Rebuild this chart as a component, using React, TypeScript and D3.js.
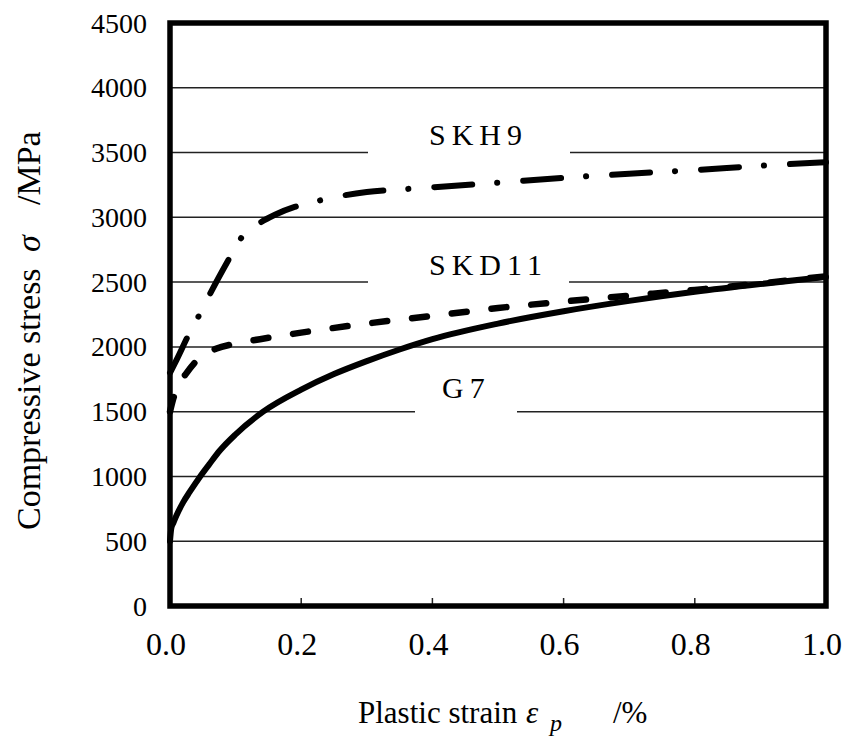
import React from "react";
import * as d3 from "d3";

// Compressive flow curves of three tool steels (plastic strain in %, stress in MPa)
const g7Strain = [0, 0.002, 0.005, 0.01, 0.02, 0.03, 0.046, 0.06, 0.076, 0.1, 0.142, 0.2, 0.25, 0.3, 0.35, 0.4, 0.5, 0.6, 0.7, 0.8, 0.9, 1.0];
const g7Stress = [500, 600, 640, 700, 800, 880, 1000, 1095, 1200, 1325, 1500, 1670, 1790, 1890, 1980, 2060, 2180, 2275, 2355, 2425, 2485, 2540];

const skd11Strain = [0, 0.005, 0.012, 0.024, 0.044, 0.07, 0.1, 0.15, 0.2, 0.3, 0.4, 0.5, 0.6, 0.7, 0.8, 0.9, 1.0];
const skd11Stress = [1500, 1600, 1700, 1790, 1910, 1985, 2025, 2070, 2110, 2180, 2240, 2300, 2350, 2395, 2440, 2490, 2545];

const skh9Strain = [0, 0.01, 0.029, 0.044, 0.06, 0.09, 0.107, 0.132, 0.16, 0.19, 0.22, 0.25, 0.3, 0.35, 0.4, 0.5, 0.6, 0.7, 0.8, 0.9, 1.0];
const skh9Stress = [1800, 1900, 2100, 2240, 2400, 2680, 2830, 2940, 3020, 3080, 3120, 3155, 3195, 3215, 3232, 3268, 3305, 3337, 3365, 3398, 3425];

const yTicks = [0, 500, 1000, 1500, 2000, 2500, 3000, 3500, 4000, 4500];
const xTicks = [0, 0.2, 0.4, 0.6, 0.8, 1.0];

const FONT = "'Liberation Serif', 'Times New Roman', serif";

const W = 848;
const H = 739;
const L = 170;
const R = 826;
const T = 23;
const B = 606;

const x = d3.scaleLinear().domain([0, 1]).range([L, R]);
const y = d3.scaleLinear().domain([0, 4500]).range([B, T]);

const zip = (xs: number[], ys: number[]) => xs.map((v, i) => [v, ys[i]] as [number, number]);

const line = d3
  .line<[number, number]>()
  .x((d) => x(d[0]))
  .y((d) => y(d[1]))
  .curve(d3.curveMonotoneX);

// White boxes behind the series names (they interrupt the grid lines)
const labelBoxes = [
  { x0: 368, x1: 570, yc: y(3500) },
  { x0: 368, x1: 569, yc: y(2500) },
  { x0: 415, x1: 517, yc: y(1500) },
];

export default function App() {
  return (
    <svg
      width={W}
      height={H}
      style={{ position: "absolute", left: 0, top: 0, background: "#fff" }}
      fontFamily={FONT}
    >
      <rect x={0} y={0} width={W} height={H} fill="#fff" />

      {/* horizontal grid */}
      {yTicks
        .filter((t) => t > 0 && t < 4500)
        .map((t) => (
          <line key={t} x1={L} x2={R} y1={y(t)} y2={y(t)} stroke="#222" strokeWidth={1.5} />
        ))}

      {labelBoxes.map((b, i) => (
        <rect key={i} x={b.x0} y={b.yc - 14} width={b.x1 - b.x0} height={28} fill="#fff" />
      ))}

      {/* x ticks */}
      {xTicks
        .filter((t) => t > 0 && t < 1)
        .map((t) => (
          <line key={t} x1={x(t)} x2={x(t)} y1={B} y2={B - 8} stroke="#222" strokeWidth={1.5} />
        ))}

      {/* curves */}
      <path
        d={line(zip(g7Strain, g7Stress)) || ""}
        fill="none"
        stroke="#000"
        strokeWidth={6}
        strokeLinejoin="round"
        strokeLinecap="round"
      />
      <path
        d={line(zip(skd11Strain, skd11Stress)) || ""}
        fill="none"
        stroke="#000"
        strokeWidth={6.5}
        strokeDasharray="15 25"
        strokeLinecap="round"
      />
      <path
        d={line(zip(skh9Strain, skh9Stress)) || ""}
        fill="none"
        stroke="#000"
        strokeWidth={6}
        strokeDasharray="38 25 0.1 26"
        strokeLinecap="round"
      />

      {/* frame */}
      <rect x={L} y={T} width={R - L} height={B - T} fill="none" stroke="#000" strokeWidth={5.5} />

      {/* y tick labels */}
      {yTicks.map((t) => (
        <text key={t} x={147} y={y(t)} dy="0.34em" textAnchor="end" fontSize={28} fill="#000">
          {t}
        </text>
      ))}

      {/* x tick labels */}
      {xTicks.map((t) => (
        <text key={t} x={x(t) - 4} y={655} textAnchor="middle" fontSize={32} fill="#000">
          {t.toFixed(1)}
        </text>
      ))}

      {/* series names */}
      <text x={429} y={145} fontSize={30} letterSpacing={6} fill="#000">SKH9</text>
      <text x={429} y={275} fontSize={30} letterSpacing={6} fill="#000">SKD11</text>
      <text x={442} y={398} fontSize={30} letterSpacing={6} fill="#000">G7</text>

      {/* x axis title */}
      <g fontSize={31} fill="#000">
        <text x={358} y={723}>Plastic strain</text>
        <text x={526} y={723} fontStyle="italic">ε</text>
        <text x={550} y={731} fontSize={24} fontStyle="italic">p</text>
        <text x={613} y={723}>/%</text>
      </g>

      {/* y axis title */}
      <g transform="translate(40,530) rotate(-90)" fontSize={34} fill="#000">
        <text x={0} y={0}>Compressive stress</text>
        <text x={278} y={0} fontStyle="italic">σ</text>
        <text x={325} y={0}>/MPa</text>
      </g>
    </svg>
  );
}
